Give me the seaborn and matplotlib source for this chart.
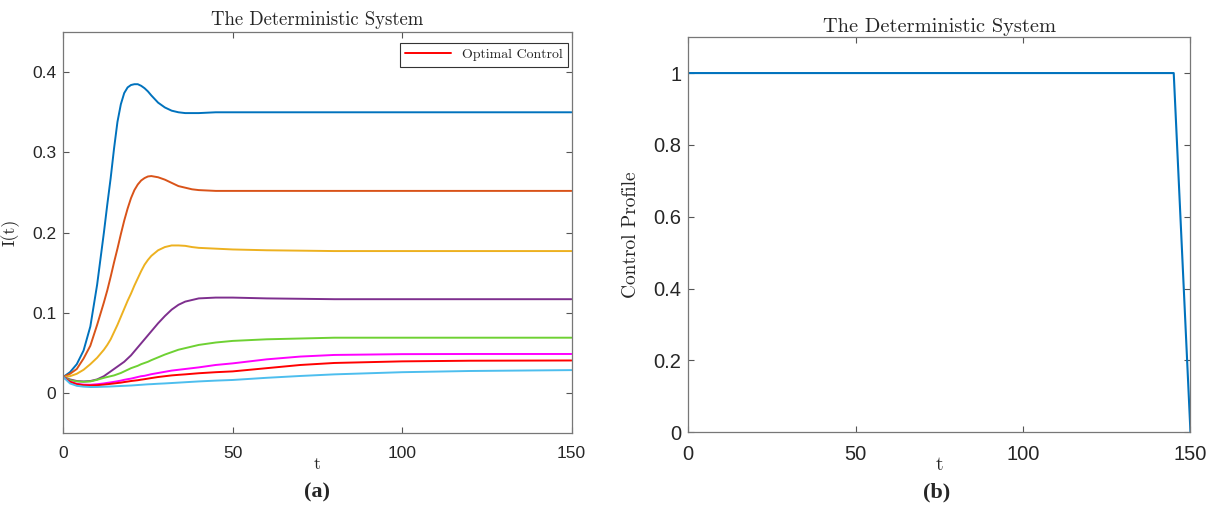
import numpy as np
import pandas as pd
import matplotlib
matplotlib.use("Agg")
import matplotlib.pyplot as plt
import seaborn as sns

# time grid the curves were read at
t = [0, 2, 4, 6, 8, 10, 12, 13, 14, 15, 16, 17, 18, 19, 20, 21, 22, 23, 24, 25, 26,
     28, 30, 32, 34, 36, 38, 40, 45, 50, 60, 70, 80, 100, 120, 150]

# I(t) for each run
i_blue = [.020, .026, .036, .053, .083, .135, .200, .235, .268, .305, .338, .360, .374,
          .381, .384, .385, .385, .383, .380, .376, .371, .362, .356, .352, .350, .349,
          .349, .349, .350, .350, .350, .350, .350, .350, .350, .350]
i_orange = [.020, .024, .030, .043, .059, .085, .113, .128, .145, .163, .180, .198, .215,
            .230, .243, .253, .260, .265, .268, .270, .2705, .269, .266, .262, .258, .256,
            .254, .253, .252, .252, .252, .252, .252, .252, .252, .252]
i_yellow = [.020, .021, .024, .029, .036, .044, .054, .060, .067, .076, .085, .095, .105,
            .115, .124, .134, .143, .152, .160, .166, .171, .178, .182, .184, .184, .1835,
            .182, .181, .180, .179, .178, .1775, .177, .177, .177, .177]
i_purple = [.020, .017, .015, .0145, .015, .017, .021, .024, .027, .030, .033, .036, .039,
            .043, .047, .052, .057, .062, .067, .072, .077, .087, .096, .104, .110, .114,
            .116, .118, .119, .119, .118, .1175, .117, .117, .117, .117]
i_green = [.020, .016, .0145, .014, .0145, .0165, .019, .020, .021, .022, .0235, .025, .027,
           .029, .031, .0325, .034, .036, .0375, .039, .041, .0445, .048, .051, .054, .056,
           .058, .060, .063, .065, .067, .068, .069, .069, .069, .069]
i_magenta = [.020, .014, .0115, .0105, .0103, .011, .012, .0127, .0133, .014, .0147, .0155,
             .0165, .0173, .018, .019, .020, .021, .0215, .0225, .0235, .025, .0265, .028,
             .029, .030, .031, .032, .035, .037, .042, .0455, .0475, .0485, .0487, .0487]
i_optimal = [.020, .014, .011, .0098, .0095, .0098, .0105, .011, .0115, .012, .0125, .013,
             .0137, .0143, .015, .0155, .016, .0167, .0173, .018, .0187, .020, .021, .022,
             .0227, .0233, .024, .0247, .026, .027, .031, .035, .0375, .0395, .0403, .0406]
i_cyan = [.020, .012, .009, .008, .0075, .0076, .0079, .008, .0082, .0084, .0086, .0088,
          .009, .0092, .0094, .0097, .010, .0103, .0106, .0109, .0111, .0116, .012, .0125,
          .013, .0135, .014, .0145, .0155, .0163, .019, .0213, .0233, .026, .0275, .0286]

# control profile u(t)
t_ctrl = [0, 145, 150]
u_ctrl = [1, 1, 0]

sns.set_style("ticks")
plt.rcParams["font.family"] = ["Liberation Sans", "DejaVu Sans"]

curves = [
  (i_blue, "#0072BD", None),
  (i_orange, "#D95319", None),
  (i_yellow, "#EDB120", None),
  (i_purple, "#7E2F8E", None),
  (i_green, "#6ED133", None),
  (i_magenta, "#FF00FF", None),
  (i_optimal, "#FF0000", "Optimal Control"),
  (i_cyan, "#4DBEEE", None),
]

fig = plt.figure(figsize=(12.16, 5.09), dpi=100)
ax1 = fig.add_axes([0.052, 0.149, 0.418, 0.788])
ax2 = fig.add_axes([0.566, 0.151, 0.413, 0.776])

for vals, col, lab in curves:
  sns.lineplot(x=t, y=vals, color=col, linewidth=1.4, label=lab, ax=ax1)

sns.lineplot(x=t_ctrl, y=u_ctrl, color="#0072BD", linewidth=1.5, ax=ax2)

serif = "cmr10"

ax1.set_xlim(0, 150)
ax1.set_ylim(-0.05, 0.45)
ax1.set_xticks([0, 50, 100, 150])
ax1.set_yticks([0, 0.1, 0.2, 0.3, 0.4])
ax1.set_yticklabels(["0", "0.1", "0.2", "0.3", "0.4"])
ax1.set_title("The Deterministic System", family=serif, fontsize=13.5, pad=5)
ax1.set_xlabel("t", family=serif, fontsize=13)
ax1.set_ylabel("I(t)", family=serif, fontsize=13)
ax1.xaxis.set_label_coords(0.5, -0.058)
ax1.yaxis.set_label_coords(-0.085, 0.5)
leg = ax1.legend(loc="upper right", bbox_to_anchor=(0.994, 0.973), borderaxespad=0,
                 prop={"family": serif, "size": 10}, fancybox=False,
                 edgecolor="#333333", framealpha=1, handlelength=3.3)
leg.get_frame().set_linewidth(0.8)

ax2.set_xlim(0, 150)
ax2.set_ylim(0, 1.1)
ax2.set_xticks([0, 50, 100, 150])
ax2.set_yticks([0, 0.2, 0.4, 0.6, 0.8, 1.0])
ax2.set_yticklabels(["0", "0.2", "0.4", "0.6", "0.8", "1"])
ax2.set_title("The Deterministic System", family=serif, fontsize=14.7, pad=4)
ax2.set_xlabel("t", family=serif, fontsize=14)
ax2.set_ylabel("Control Profile", family=serif, fontsize=14)
ax2.xaxis.set_label_coords(0.5, -0.060)
ax2.yaxis.set_label_coords(-0.096, 0.5)

for ax, fs in [(ax1, 12.5), (ax2, 14.5)]:
  ax.tick_params(direction="in", top=True, right=True, length=4, width=0.8,
                 color="#555555", labelsize=fs, labelcolor="#262626")
  ax.tick_params(axis="x", pad=9)
  ax.tick_params(axis="y", pad=5)
  for sp in ax.spines.values():
    sp.set_visible(True)
    sp.set_color("#777777")
    sp.set_linewidth(0.9)

fig.text(317 / 1216, 1 - 492 / 509, "(a)", family="Liberation Serif",
         fontweight="bold", fontsize=16, ha="center", va="center")
fig.text(937 / 1216, 1 - 492 / 509, "(b)", family="Liberation Serif",
         fontweight="bold", fontsize=16, ha="center", va="center")

plt.savefig("out.png", dpi=100)
